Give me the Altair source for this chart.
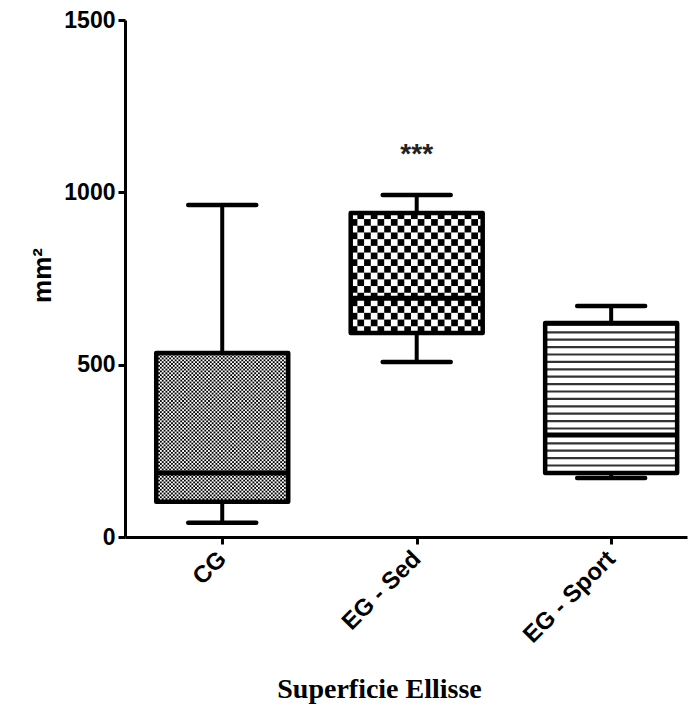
import altair as alt
import pandas as pd

# ---- data ----
categories = ["CG", "EG - Sed", "EG - Sport"]
whisker_low = [41, 508, 171]
q1 = [102, 592, 186]
median = [186, 693, 296]
q3 = [534, 940, 621]
whisker_high = [963, 992, 670]
y_ticks = [0, 500, 1000, 1500]
sig_label = "***"
sig_group = "EG - Sed"
sig_value = 1085

# ---- layout ----
W, H = 562, 517
XMAX = 2.89
YMAX = 1500
ux = XMAX / W
uy = YMAX / H
BOX_HALF = 66 * ux
CAP_HALF = 34 * ux

pos = [i + 0.5 for i in range(len(categories))]
stats = pd.DataFrame({
    "cat": categories, "pos": pos, "lo": whisker_low, "q1": q1,
    "med": median, "q3": q3, "hi": whisker_high,
})
stats["left"] = stats["pos"] - BOX_HALF
stats["right"] = stats["pos"] + BOX_HALF
stats["capl"] = stats["pos"] - CAP_HALF
stats["capr"] = stats["pos"] + CAP_HALF


def checker(cx, lo, hi, cell_px):
    left, right = cx - BOX_HALF, cx + BOX_HALF
    cw, ch = cell_px * ux, cell_px * uy
    rows = []
    j, y = 0, lo
    while y < hi:
        i, x = 0, left
        while x < right:
            if (i + j) % 2 == 0:
                rows.append({"x": x, "x2": min(x + cw, right), "y": y, "y2": min(y + ch, hi)})
            x += cw
            i += 1
        y += ch
        j += 1
    return rows


cells = checker(pos[0], q1[0], q3[0], 1.85) + checker(pos[1], q1[1], q3[1], 6.7)
cells_df = pd.DataFrame(cells)

stripes = []
yy = q1[2]
while yy < q3[2]:
    stripes.append({"x": pos[2] - BOX_HALF, "x2": pos[2] + BOX_HALF, "y": yy})
    yy += 7.4 * uy
stripes_df = pd.DataFrame(stripes)

label_expr = "datum.value < 1 ? '%s' : datum.value < 2 ? '%s' : '%s'" % tuple(categories)

xscale = alt.Scale(domain=[0, XMAX], nice=False, zero=False)
yscale = alt.Scale(domain=[0, YMAX], nice=False)

xaxis = alt.Axis(
    values=pos, labelExpr=label_expr, labelAngle=-45, labelAlign="right",
    labelBaseline="middle", labelPadding=11, labelFontSize=24, title="Superficie Ellisse",
    titleFont="Liberation Serif", titleFontWeight="bold", titleFontSize=28,
    titleX=254, titleY=152, titleBaseline="middle", titleAnchor="middle",
    titleAlign="center",
)
yaxis = alt.Axis(
    values=y_ticks, format="d", title="mm²", titleFont="Liberation Sans", titleFontWeight="bold",
    titleFontSize=26, titleX=-83, titleY=255, titleBaseline="middle", titleAlign="center",
    labelPadding=3, labelFontSize=23,
)


def X(field):
    return alt.X(f"{field}:Q", scale=xscale, axis=xaxis)


def Y(field):
    return alt.Y(f"{field}:Q", scale=yscale, axis=yaxis)


base = alt.Chart(stats)

box_fill = base.mark_rect(fill="white").encode(x=X("left"), x2="right", y=Y("q1"), y2="q3")
pattern = alt.Chart(cells_df).mark_rect(fill="black", stroke=None).encode(
    x=X("x"), x2="x2", y=Y("y"), y2="y2")
stripe_layer = alt.Chart(stripes_df).mark_rule(color="#333333", strokeWidth=2.2).encode(
    x=X("x"), x2="x2", y=Y("y"))
med = base.mark_rule(color="black", strokeWidth=5).encode(x=X("left"), x2="right", y=Y("med"))
box_outline = base.mark_rect(fill=None, filled=False, stroke="black", strokeWidth=4.5,
                             strokeJoin="round").encode(
    x=X("left"), x2="right", y=Y("q1"), y2="q3")
whisk_hi = base.mark_rule(color="black", strokeWidth=4).encode(x=X("pos"), y=Y("q3"), y2="hi")
whisk_lo = base.mark_rule(color="black", strokeWidth=4).encode(x=X("pos"), y=Y("lo"), y2="q1")
cap_hi = base.mark_rule(color="black", strokeWidth=4.5, strokeCap="round").encode(
    x=X("capl"), x2="capr", y=Y("hi"))
cap_lo = base.mark_rule(color="black", strokeWidth=4.5, strokeCap="round").encode(
    x=X("capl"), x2="capr", y=Y("lo"))

sig_df = pd.DataFrame({"pos": [pos[categories.index(sig_group)]], "v": [sig_value], "t": [sig_label]})
sig = alt.Chart(sig_df).mark_text(
    font="Liberation Sans", fontSize=28, fontWeight="bold", color="#222222",
    baseline="alphabetic", align="center").encode(x=X("pos"), y=Y("v"), text="t:N")

chart = alt.layer(
    box_fill, pattern, stripe_layer, med, box_outline, whisk_hi, whisk_lo, cap_hi, cap_lo, sig
).properties(
    width=W, height=H, autosize="none",
    padding={"left": 117, "top": 12, "right": 5, "bottom": 170},
).configure_view(stroke=None).configure_axis(
    domainColor="black", domainWidth=3, tickColor="black", tickWidth=3, tickSize=7,
    labelFont="Liberation Sans", labelFontWeight="bold", labelFontSize=22,
    labelColor="black", titleColor="black", grid=False,
)

chart.save("out.html", embed_options={"renderer": "svg", "actions": False})
